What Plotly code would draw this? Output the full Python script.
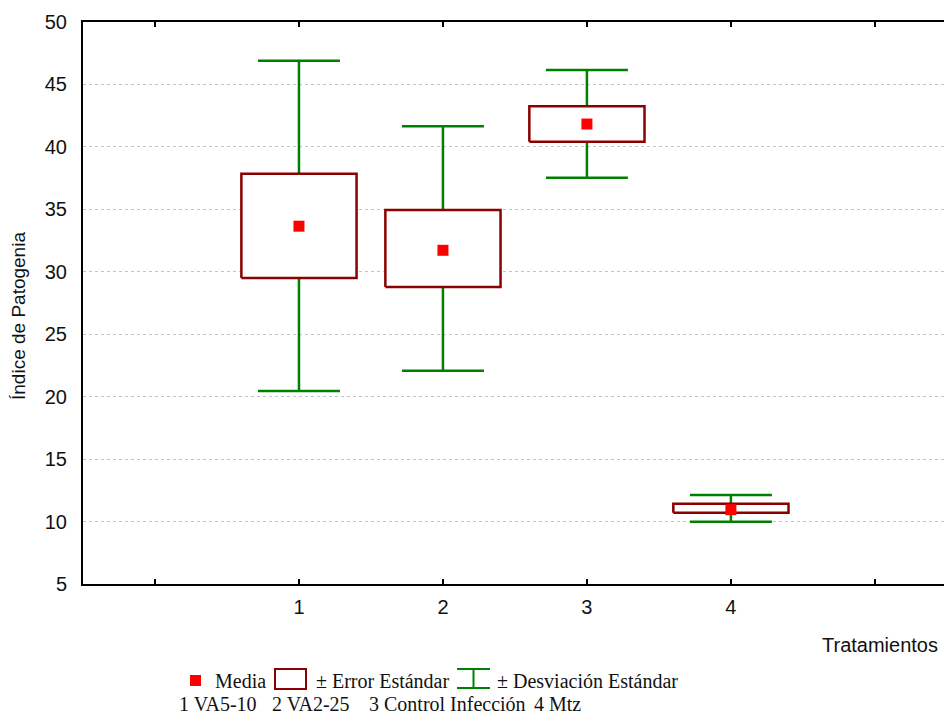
import plotly.graph_objects as go

# ---- data ----
treatments = [1, 2, 3, 4]
means = [33.65, 31.72, 41.83, 10.95]
se_low = [29.5, 28.78, 40.41, 10.71]
se_high = [37.85, 34.94, 43.25, 11.43]
sd_low = [20.45, 22.08, 37.53, 9.99]
sd_high = [46.9, 41.65, 46.15, 12.13]
x_tickvals = [0, 1, 2, 3, 4, 5]
x_ticktext = ["", "1", "2", "3", "4", ""]
y_tickvals = [5, 10, 15, 20, 25, 30, 35, 40, 45, 50]

legend_labels = ["Media", "± Error Estándar", "± Desviación Estándar"]
group_labels = ["1 VA5-10", "2 VA2-25", "3 Control Infección", "4 Mtz"]
x_title = "Tratamientos"
y_title = "Índice de Patogenia"

RED = "#ff0000"
DARKRED = "#8b0000"
GREEN = "#008000"

W, H = 944, 715
L, R, T, B = 83, 0, 22, 131
PW, PH = W - L - R, H - T - B


def px(x):
    return (x - L) / PW


def py(y):
    return (H - B - y) / PH


fig = go.Figure()

# SD whiskers (error bars around the mean)
fig.add_trace(go.Scatter(
    x=treatments, y=means, mode="markers",
    marker=dict(size=1, color="rgba(0,0,0,0)"),
    error_y=dict(type="data", symmetric=False,
                 array=[h - m for h, m in zip(sd_high, means)],
                 arrayminus=[m - l for m, l in zip(means, sd_low)],
                 color=GREEN, thickness=2.5, width=41),
    showlegend=False, hoverinfo="skip"))

# SE boxes
hw = 0.4
bx, by = [], []
for t, lo, hi in zip(treatments, se_low, se_high):
    bx += [t - hw, t + hw, t + hw, t - hw, t - hw, None]
    by += [lo, lo, hi, hi, lo, None]
fig.add_trace(go.Scatter(
    x=bx, y=by, mode="lines", fill="toself", fillcolor="white",
    line=dict(color=DARKRED, width=2.5), showlegend=False, hoverinfo="skip"))

# means
fig.add_trace(go.Scatter(
    x=treatments, y=means, mode="markers",
    marker=dict(symbol="square", size=11, color=RED, line=dict(width=0)),
    showlegend=False))

annotations = []
shapes = []

# axis titles
annotations.append(dict(text=x_title, xref="paper", yref="paper",
                        x=px(940), y=py(645), xanchor="right", yanchor="middle",
                        showarrow=False, font=dict(family="Liberation Sans", size=20, color="#111")))
annotations.append(dict(text=y_title, xref="paper", yref="paper",
                        x=px(18), y=py(316), xanchor="center", yanchor="middle",
                        textangle=-90, showarrow=False,
                        font=dict(family="Liberation Sans", size=19, color="#111")))

# custom legend
leg_font = dict(family="Liberation Serif", size=20, color="#111")
ly = 681
shapes.append(dict(type="rect", xref="paper", yref="paper",
                   x0=px(190), x1=px(201), y0=py(686), y1=py(675),
                   fillcolor=RED, line=dict(width=0)))
annotations.append(dict(text=legend_labels[0], xref="paper", yref="paper",
                        x=px(213), y=py(ly), xanchor="left", yanchor="middle",
                        showarrow=False, font=leg_font))
shapes.append(dict(type="rect", xref="paper", yref="paper",
                   x0=px(275), x1=px(306), y0=py(689), y1=py(669),
                   fillcolor="white", line=dict(color=DARKRED, width=2)))
annotations.append(dict(text=legend_labels[1], xref="paper", yref="paper",
                        x=px(314), y=py(ly), xanchor="left", yanchor="middle",
                        showarrow=False, font=leg_font))
shapes.append(dict(type="line", xref="paper", yref="paper",
                   x0=px(457), x1=px(490), y0=py(669), y1=py(669),
                   line=dict(color=GREEN, width=2)))
shapes.append(dict(type="line", xref="paper", yref="paper",
                   x0=px(457), x1=px(490), y0=py(688), y1=py(688),
                   line=dict(color=GREEN, width=2)))
shapes.append(dict(type="line", xref="paper", yref="paper",
                   x0=px(473.5), x1=px(473.5), y0=py(669), y1=py(688),
                   line=dict(color=GREEN, width=2)))
annotations.append(dict(text=legend_labels[2], xref="paper", yref="paper",
                        x=px(495), y=py(ly), xanchor="left", yanchor="middle",
                        showarrow=False, font=leg_font))

gx = [177, 270, 367, 532]
for g, xx in zip(group_labels, gx):
    annotations.append(dict(text=g, xref="paper", yref="paper",
                            x=px(xx), y=py(704), xanchor="left", yanchor="middle",
                            showarrow=False, font=leg_font))

fig.update_layout(
    width=W, height=H,
    margin=dict(l=L, r=R, t=T, b=B, pad=0),
    paper_bgcolor="white", plot_bgcolor="white",
    showlegend=False,
    font=dict(family="Liberation Sans", size=20, color="#111"),
    xaxis=dict(range=[-0.5, 5.48], tickvals=x_tickvals, ticktext=x_ticktext,
               ticks="inside", ticklen=5, tickwidth=1.5, tickcolor="black",
               showline=True, linecolor="black", linewidth=2, mirror="ticks",
               showgrid=False, zeroline=False, ticklabelstandoff=4,
               tickfont=dict(family="Liberation Sans", size=20, color="#111")),
    yaxis=dict(range=[5, 50], tickvals=y_tickvals, ticks="",
               showline=True, linecolor="black", linewidth=2, mirror=False,
               showgrid=True, gridcolor="#c4c4c4", griddash="dot", gridwidth=1,
               zeroline=False, ticklabelstandoff=10,
               tickfont=dict(family="Liberation Sans", size=20, color="#111")),
    annotations=annotations, shapes=shapes,
)

fig.write_html("out.html")
